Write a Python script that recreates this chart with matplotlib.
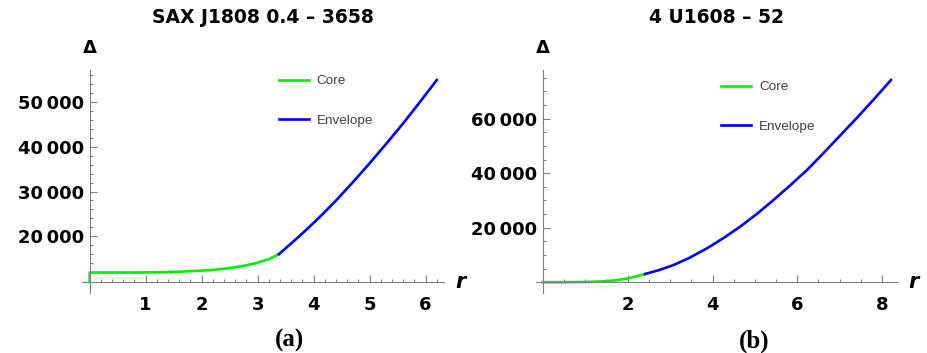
import matplotlib
matplotlib.use("Agg")
import matplotlib.pyplot as plt
from matplotlib.ticker import FixedLocator, FuncFormatter

# SAX J1808.4-3658: core and envelope profiles
sax_core_r = [0.0, 0.0, 0.4, 0.8, 1.2, 1.6, 2.0, 2.2, 2.4, 2.6, 2.8, 3.0, 3.2, 3.38]
sax_core_d = [9800, 11900, 11900, 11910, 11960, 12080, 12320, 12500, 12750,
              13070, 13520, 14100, 14900, 16000]
sax_env_r = [3.38, 3.65, 3.93, 4.17, 4.41, 4.7, 5.0, 5.3, 5.6, 5.9, 6.2]
sax_env_d = [16000, 18950, 22140, 25050, 28100, 32050, 36290, 40690, 45220,
             49990, 54890]

# 4U 1608-52: core and envelope profiles
u_core_r = [0.0, 0.5, 1.0, 1.25, 1.5, 1.75, 2.0, 2.2, 2.41]
u_core_d = [0, 10, 80, 190, 380, 760, 1400, 2120, 3010]
u_env_r = [2.41, 2.75, 3.08, 3.45, 3.87, 4.25, 4.65, 5.05, 5.44, 5.83, 6.23,
           6.62, 7.01, 7.4, 7.8, 8.21]
u_env_d = [3010, 4500, 6310, 8900, 12440, 16100, 20370, 25100, 30170, 35500,
           41170, 47400, 53800, 60200, 67000, 74200]

titles = ["SAX J1808 0.4 \u2013 3658", "4 U1608 \u2013 52"]
panel_tags = ["(a)", "(b)"]

GREEN = "#00f000"
BLUE = "#0000f0"
AXIS_GRAY = "#808080"


def thousands(v, pos):
    v = int(round(v))
    if v >= 1000:
        return f"{v // 1000}\u2009{v % 1000:03d}"
    return str(v)


def style_axes(ax, x0, y0, xmaj, xmin, ymaj, ymin):
    for s in ["top", "right"]:
        ax.spines[s].set_visible(False)
    ax.spines["left"].set_position(("data", x0))
    ax.spines["bottom"].set_position(("data", y0))
    for s in ["left", "bottom"]:
        ax.spines[s].set_color(AXIS_GRAY)
        ax.spines[s].set_linewidth(0.8)
    ax.xaxis.set_major_locator(FixedLocator(xmaj))
    ax.xaxis.set_minor_locator(FixedLocator(xmin))
    ax.yaxis.set_major_locator(FixedLocator(ymaj))
    ax.yaxis.set_minor_locator(FixedLocator(ymin))
    ax.yaxis.set_major_formatter(FuncFormatter(thousands))
    ax.tick_params(which="both", direction="in", color=AXIS_GRAY, width=0.8)
    ax.tick_params(which="major", length=5)
    ax.tick_params(which="minor", length=2.5)
    ax.tick_params(axis="x", which="major", pad=10)
    ax.tick_params(axis="y", which="major", pad=4)
    for lab in ax.get_xticklabels() + ax.get_yticklabels():
        lab.set_fontfamily("DejaVu Sans")
        lab.set_fontweight("bold")
        lab.set_fontsize(13)


fig = plt.figure(figsize=(9.28, 3.53), dpi=100)
ax1 = fig.add_axes([0.08836, 0.16997, 0.39009, 0.63173])
ax2 = fig.add_axes([0.57726, 0.16997, 0.38966, 0.63173])

ax1.plot(sax_core_r, sax_core_d, color=GREEN, lw=1.9, label="Core")
ax1.plot(sax_env_r, sax_env_d, color=BLUE, lw=1.9, label="Envelope")
ax1.set_xlim(-0.1375, 6.33)
ax1.set_ylim(7330, 57140)
style_axes(ax1, 0, 9800,
           [1, 2, 3, 4, 5, 6], [i * 0.2 for i in range(1, 32)],
           [20000, 30000, 40000, 50000], list(range(12000, 58000, 2000)))

ax2.plot(u_core_r, u_core_d, color=GREEN, lw=1.9, label="Core")
ax2.plot(u_env_r, u_env_d, color=BLUE, lw=1.9, label="Envelope")
ax2.set_xlim(-0.172, 8.36)
ax2.set_ylim(-3960, 77870)
style_axes(ax2, 0, 0,
           [2, 4, 6, 8], [i * 0.5 for i in range(1, 17)],
           [20000, 40000, 60000], list(range(5000, 80000, 5000)))

legend_pos = [(0.544, 0.978), (0.513, 0.951)]
axis_level = [9800, 0]
tag_x = [0.572, 0.603]
for ax, title, tag, lp, y0, tx in zip([ax1, ax2], titles, panel_tags,
                                      legend_pos, axis_level, tag_x):
    ax.set_title(title, fontfamily="DejaVu Sans", fontweight="bold",
                 fontsize=13.5, pad=34)
    # axis names at the ends of the axes
    ax.annotate("\u0394", xy=(0, 1), xycoords=("data", "axes fraction"),
                xytext=(0, 9), textcoords="offset points", ha="center",
                va="bottom", fontfamily="DejaVu Sans", fontweight="bold",
                fontsize=13)
    ax.annotate("r", xy=(1, y0), xycoords=("axes fraction", "data"),
                xytext=(8, 0), textcoords="offset points", ha="left",
                va="center", fontfamily="DejaVu Sans", fontweight="bold",
                fontstyle="italic", fontsize=15)
    ax.text(tx, -0.215, tag, transform=ax.transAxes, ha="center", va="center",
            fontfamily="Liberation Serif", fontweight="bold", fontsize=18)
    leg = ax.legend(loc="upper left", bbox_to_anchor=lp, frameon=False,
                    borderpad=0, borderaxespad=0, handlelength=2.2,
                    handletextpad=0.6, labelspacing=2.0,
                    prop={"family": "Liberation Sans", "size": 9.7})
    for t in leg.get_texts():
        t.set_color("#404040")

fig.savefig("out.png", dpi=100)
